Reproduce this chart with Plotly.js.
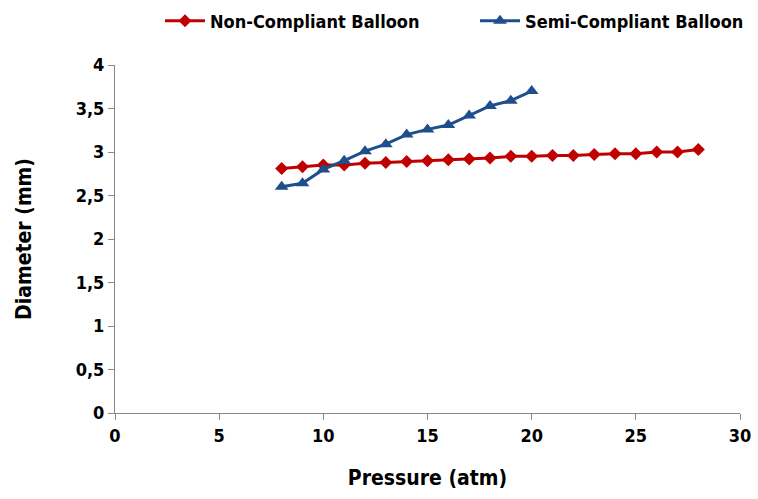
<!DOCTYPE html>
<html><head><meta charset="utf-8">
<script src="https://cdn.plot.ly/plotly-3.0.1.min.js"></script>
<style>html,body{margin:0;padding:0;background:#fff}#chart{width:758px;height:499px}</style>
</head><body><div id="chart"></div>
<script>
const nonCompliantPressure = [8,9,10,11,12,13,14,15,16,17,18,19,20,21,22,23,24,25,26,27,28];
const nonCompliantDiameter = [2.81,2.83,2.85,2.85,2.87,2.88,2.89,2.90,2.91,2.92,2.93,2.95,2.95,2.96,2.96,2.97,2.98,2.98,3.00,3.00,3.03];
const semiCompliantPressure = [8,9,10,11,12,13,14,15,16,17,18,19,20];
const semiCompliantDiameter = [2.60,2.64,2.80,2.90,3.01,3.09,3.20,3.26,3.31,3.42,3.53,3.59,3.70];
const seriesNames = ["Non-Compliant Balloon","Semi-Compliant Balloon"];
const xTicks = [0,5,10,15,20,25,30];
const yTicks = [0,0.5,1,1.5,2,2.5,3,3.5,4];

const FONT = '"DejaVu Sans Condensed","Liberation Sans Narrow",sans-serif';
const traces = [
  {x: nonCompliantPressure, y: nonCompliantDiameter, name: seriesNames[0], mode:'lines+markers', legend:'legend',
   line:{color:'#C00000', width:3}, marker:{symbol:'diamond', size:10, color:'#C00000'}},
  {x: semiCompliantPressure, y: semiCompliantDiameter, name: seriesNames[1], mode:'lines+markers', legend:'legend2',
   line:{color:'#1F4E8C', width:3}, marker:{symbol:'triangle-up', size:12, color:'#1F4E8C'}}
];
const legFont = {family:FONT, size:18, color:'#000', weight:'bold'};
const layout = {
  width:758, height:499,
  margin:{l:115, r:18, t:65, b:86, autoexpand:false},
  paper_bgcolor:'#fff', plot_bgcolor:'#fff',
  separators:', ',
  font:{family:FONT, size:16, color:'#000'},
  showlegend:true,
  legend:{orientation:'h', xref:'container', yref:'container', x:160/758, xanchor:'left', y:0.995, yanchor:'top',
    font:legFont, itemwidth:40},
  legend2:{orientation:'h', xref:'container', yref:'container', x:475/758, xanchor:'left', y:0.995, yanchor:'top',
    font:legFont, itemwidth:40},
  xaxis:{range:[0,30], tickvals:xTicks, ticks:'outside', ticklen:6, tickcolor:'#888',
    showline:true, linecolor:'#888', linewidth:1, showgrid:false, zeroline:false,
    tickfont:{family:FONT, size:18, weight:'bold'},
    title:{text:'Pressure (atm)', font:{family:FONT, size:21, weight:'bold'}, standoff:25}},
  yaxis:{range:[0,4], tickvals:yTicks, ticks:'outside', ticklen:6, tickcolor:'#888',
    showline:true, linecolor:'#888', linewidth:1, showgrid:false, zeroline:false,
    tickfont:{family:FONT, size:18, weight:'bold'},
    title:{text:'Diameter (mm)', font:{family:FONT, size:21, weight:'bold'}, standoff:38}}
};
Plotly.newPlot('chart', traces, layout, {displayModeBar:false, staticPlot:true});
</script></body></html>
